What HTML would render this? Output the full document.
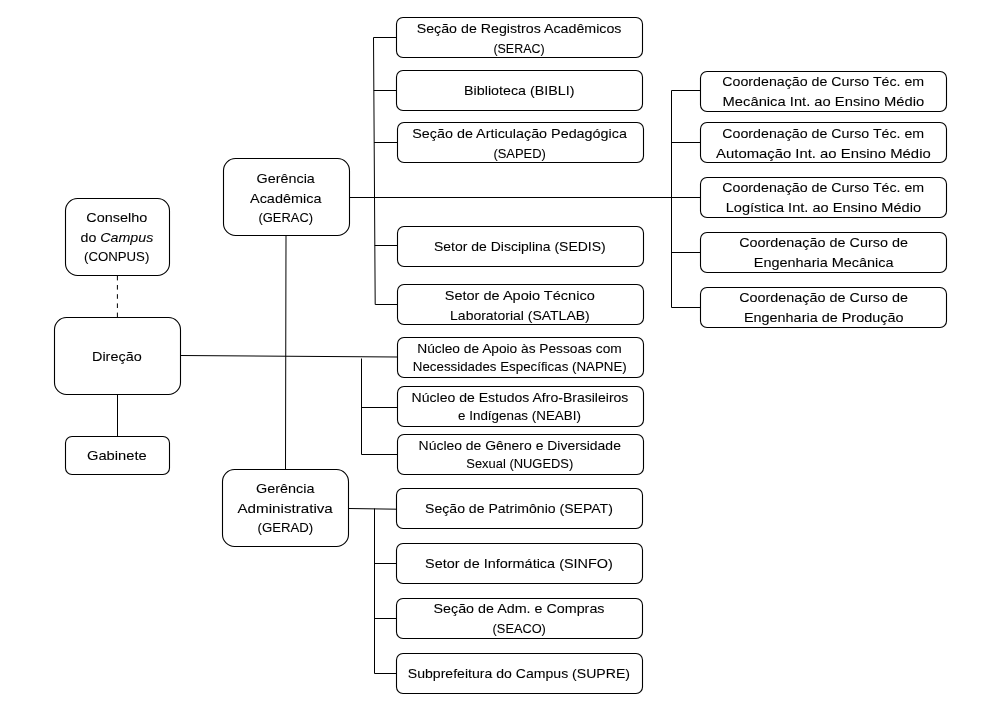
<!DOCTYPE html>
<html><head><meta charset="utf-8"><style>
html,body{margin:0;padding:0;background:#fff;width:981px;height:705px;overflow:hidden}
svg{display:block;will-change:transform}
text{font-family:"Liberation Sans",sans-serif;font-size:13.5px;fill:#000;stroke:#000;stroke-width:0.08px;text-anchor:middle}
.b{fill:#fff;stroke:#000;stroke-width:1.1}
.l{stroke:#000;stroke-width:1.0;fill:none}
</style></head><body>
<svg width="981" height="705" viewBox="0 0 981 705">
<rect x="65.5" y="198.5" width="104.0" height="77.0" rx="12" ry="12" class="b"/>
<rect x="54.5" y="317.5" width="126.0" height="77.0" rx="12" ry="12" class="b"/>
<rect x="65.5" y="436.5" width="104.0" height="38.0" rx="6.5" ry="6.5" class="b"/>
<rect x="223.5" y="158.5" width="126.0" height="77.0" rx="12" ry="12" class="b"/>
<rect x="222.5" y="469.5" width="126.0" height="77.0" rx="12" ry="12" class="b"/>
<rect x="396.5" y="17.5" width="246.0" height="40.0" rx="6.5" ry="6.5" class="b"/>
<rect x="396.5" y="70.5" width="246.0" height="40.0" rx="6.5" ry="6.5" class="b"/>
<rect x="397.5" y="122.5" width="246.0" height="40.0" rx="6.5" ry="6.5" class="b"/>
<rect x="397.5" y="226.5" width="246.0" height="40.0" rx="6.5" ry="6.5" class="b"/>
<rect x="397.5" y="284.5" width="246.0" height="40.0" rx="6.5" ry="6.5" class="b"/>
<rect x="397.5" y="337.5" width="246.0" height="40.0" rx="6.5" ry="6.5" class="b"/>
<rect x="397.5" y="386.5" width="246.0" height="40.0" rx="6.5" ry="6.5" class="b"/>
<rect x="397.5" y="434.5" width="246.0" height="40.0" rx="6.5" ry="6.5" class="b"/>
<rect x="396.5" y="488.5" width="246.0" height="40.0" rx="6.5" ry="6.5" class="b"/>
<rect x="396.5" y="543.5" width="246.0" height="40.0" rx="6.5" ry="6.5" class="b"/>
<rect x="396.5" y="598.5" width="246.0" height="40.0" rx="6.5" ry="6.5" class="b"/>
<rect x="396.5" y="653.5" width="246.0" height="40.0" rx="6.5" ry="6.5" class="b"/>
<rect x="700.5" y="71.5" width="246.0" height="40.0" rx="6.5" ry="6.5" class="b"/>
<rect x="700.5" y="122.5" width="246.0" height="40.0" rx="6.5" ry="6.5" class="b"/>
<rect x="700.5" y="177.5" width="246.0" height="40.0" rx="6.5" ry="6.5" class="b"/>
<rect x="700.5" y="232.5" width="246.0" height="40.0" rx="6.5" ry="6.5" class="b"/>
<rect x="700.5" y="287.5" width="246.0" height="40.0" rx="6.5" ry="6.5" class="b"/>
<line x1="117.5" y1="394.5" x2="117.5" y2="436.5" class="l"/>
<line x1="286.0" y1="235.5" x2="285.5" y2="469.5" class="l"/>
<line x1="349.5" y1="197.5" x2="671.5" y2="197.5" class="l"/>
<line x1="373.5" y1="37.5" x2="375.2" y2="304.5" class="l"/>
<line x1="373.5" y1="37.5" x2="396.5" y2="37.5" class="l"/>
<line x1="373.8" y1="90.5" x2="396.5" y2="90.5" class="l"/>
<line x1="374.1" y1="142.5" x2="397.5" y2="142.5" class="l"/>
<line x1="374.7" y1="245.5" x2="397.5" y2="245.5" class="l"/>
<line x1="375.2" y1="304.5" x2="397.5" y2="304.5" class="l"/>
<line x1="671.5" y1="90.5" x2="671.5" y2="307.5" class="l"/>
<line x1="671.5" y1="90.5" x2="700.5" y2="90.5" class="l"/>
<line x1="671.5" y1="142.5" x2="700.5" y2="142.5" class="l"/>
<line x1="671.5" y1="197.5" x2="700.5" y2="197.5" class="l"/>
<line x1="671.5" y1="252.5" x2="700.5" y2="252.5" class="l"/>
<line x1="671.5" y1="307.5" x2="700.5" y2="307.5" class="l"/>
<line x1="180.5" y1="355.5" x2="397.5" y2="357.0" class="l"/>
<line x1="361.5" y1="358.5" x2="361.5" y2="454.5" class="l"/>
<line x1="361.5" y1="407.5" x2="397.5" y2="407.5" class="l"/>
<line x1="361.5" y1="454.5" x2="397.5" y2="454.5" class="l"/>
<line x1="348.5" y1="508.5" x2="396.5" y2="509.2" class="l"/>
<line x1="374.5" y1="508.5" x2="374.5" y2="673.5" class="l"/>
<line x1="374.5" y1="563.5" x2="396.5" y2="563.5" class="l"/>
<line x1="374.5" y1="618.5" x2="396.5" y2="618.5" class="l"/>
<line x1="374.5" y1="673.5" x2="396.5" y2="673.5" class="l"/>
<line x1="117.4" y1="275.5" x2="117.4" y2="317.3" class="l" stroke-dasharray="4.6 4.6" stroke-dashoffset="-0.3"/>
<text x="116.8" y="222" textLength="61.0" lengthAdjust="spacingAndGlyphs">Conselho</text>
<text x="116.95" y="242" textLength="72.7" lengthAdjust="spacingAndGlyphs">do <tspan font-style='italic'>Campus</tspan></text>
<text x="116.65" y="261" textLength="65.3" lengthAdjust="spacingAndGlyphs">(CONPUS)</text>
<text x="116.85" y="361" textLength="49.7" lengthAdjust="spacingAndGlyphs">Direção</text>
<text x="116.85" y="460" textLength="59.7" lengthAdjust="spacingAndGlyphs">Gabinete</text>
<text x="285.7" y="183" textLength="58.2" lengthAdjust="spacingAndGlyphs">Gerência</text>
<text x="285.75" y="203" textLength="71.5" lengthAdjust="spacingAndGlyphs">Acadêmica</text>
<text x="285.75" y="222" textLength="54.5" lengthAdjust="spacingAndGlyphs">(GERAC)</text>
<text x="285.25" y="493" textLength="58.5" lengthAdjust="spacingAndGlyphs">Gerência</text>
<text x="285.15" y="513" textLength="95.3" lengthAdjust="spacingAndGlyphs">Administrativa</text>
<text x="285.35" y="532" textLength="55.7" lengthAdjust="spacingAndGlyphs">(GERAD)</text>
<text x="519.1" y="33" textLength="204.8" lengthAdjust="spacingAndGlyphs">Seção de Registros Acadêmicos</text>
<text x="519.0" y="53" textLength="51.2" lengthAdjust="spacingAndGlyphs">(SERAC)</text>
<text x="519.25" y="95" textLength="110.3" lengthAdjust="spacingAndGlyphs">Biblioteca (BIBLI)</text>
<text x="519.6" y="138" textLength="214.6" lengthAdjust="spacingAndGlyphs">Seção de Articulação Pedagógica</text>
<text x="519.65" y="158" textLength="52.5" lengthAdjust="spacingAndGlyphs">(SAPED)</text>
<text x="519.85" y="251" textLength="171.7" lengthAdjust="spacingAndGlyphs">Setor de Disciplina (SEDIS)</text>
<text x="519.75" y="300" textLength="150.1" lengthAdjust="spacingAndGlyphs">Setor de Apoio Técnico</text>
<text x="519.9" y="320" textLength="139.6" lengthAdjust="spacingAndGlyphs">Laboratorial (SATLAB)</text>
<text x="519.5" y="353" textLength="204.4" lengthAdjust="spacingAndGlyphs">Núcleo de Apoio às Pessoas com</text>
<text x="519.8" y="371" textLength="214.0" lengthAdjust="spacingAndGlyphs">Necessidades Específicas (NAPNE)</text>
<text x="520.0" y="402" textLength="216.8" lengthAdjust="spacingAndGlyphs">Núcleo de Estudos Afro-Brasileiros</text>
<text x="519.5" y="420" textLength="122.8" lengthAdjust="spacingAndGlyphs">e Indígenas (NEABI)</text>
<text x="519.75" y="450" textLength="202.3" lengthAdjust="spacingAndGlyphs">Núcleo de Gênero e Diversidade</text>
<text x="519.8" y="468" textLength="107.0" lengthAdjust="spacingAndGlyphs">Sexual (NUGEDS)</text>
<text x="519.0" y="513" textLength="187.8" lengthAdjust="spacingAndGlyphs">Seção de Patrimônio (SEPAT)</text>
<text x="519.0" y="568" textLength="187.8" lengthAdjust="spacingAndGlyphs">Setor de Informática (SINFO)</text>
<text x="519.0" y="613" textLength="171.0" lengthAdjust="spacingAndGlyphs">Seção de Adm. e Compras</text>
<text x="519.25" y="633" textLength="53.3" lengthAdjust="spacingAndGlyphs">(SEACO)</text>
<text x="518.9" y="678" textLength="222.2" lengthAdjust="spacingAndGlyphs">Subprefeitura do Campus (SUPRE)</text>
<text x="823.25" y="86" textLength="201.9" lengthAdjust="spacingAndGlyphs">Coordenação de Curso Téc. em</text>
<text x="823.4" y="106" textLength="201.6" lengthAdjust="spacingAndGlyphs">Mecânica Int. ao Ensino Médio</text>
<text x="823.25" y="138" textLength="201.9" lengthAdjust="spacingAndGlyphs">Coordenação de Curso Téc. em</text>
<text x="823.4" y="158" textLength="214.6" lengthAdjust="spacingAndGlyphs">Automação Int. ao Ensino Médio</text>
<text x="823.25" y="192" textLength="201.9" lengthAdjust="spacingAndGlyphs">Coordenação de Curso Téc. em</text>
<text x="823.4" y="212" textLength="195.4" lengthAdjust="spacingAndGlyphs">Logística Int. ao Ensino Médio</text>
<text x="823.55" y="247" textLength="168.7" lengthAdjust="spacingAndGlyphs">Coordenação de Curso de</text>
<text x="823.7" y="267" textLength="139.8" lengthAdjust="spacingAndGlyphs">Engenharia Mecânica</text>
<text x="823.55" y="302" textLength="168.7" lengthAdjust="spacingAndGlyphs">Coordenação de Curso de</text>
<text x="823.7" y="322" textLength="159.6" lengthAdjust="spacingAndGlyphs">Engenharia de Produção</text>
</svg>
</body></html>
